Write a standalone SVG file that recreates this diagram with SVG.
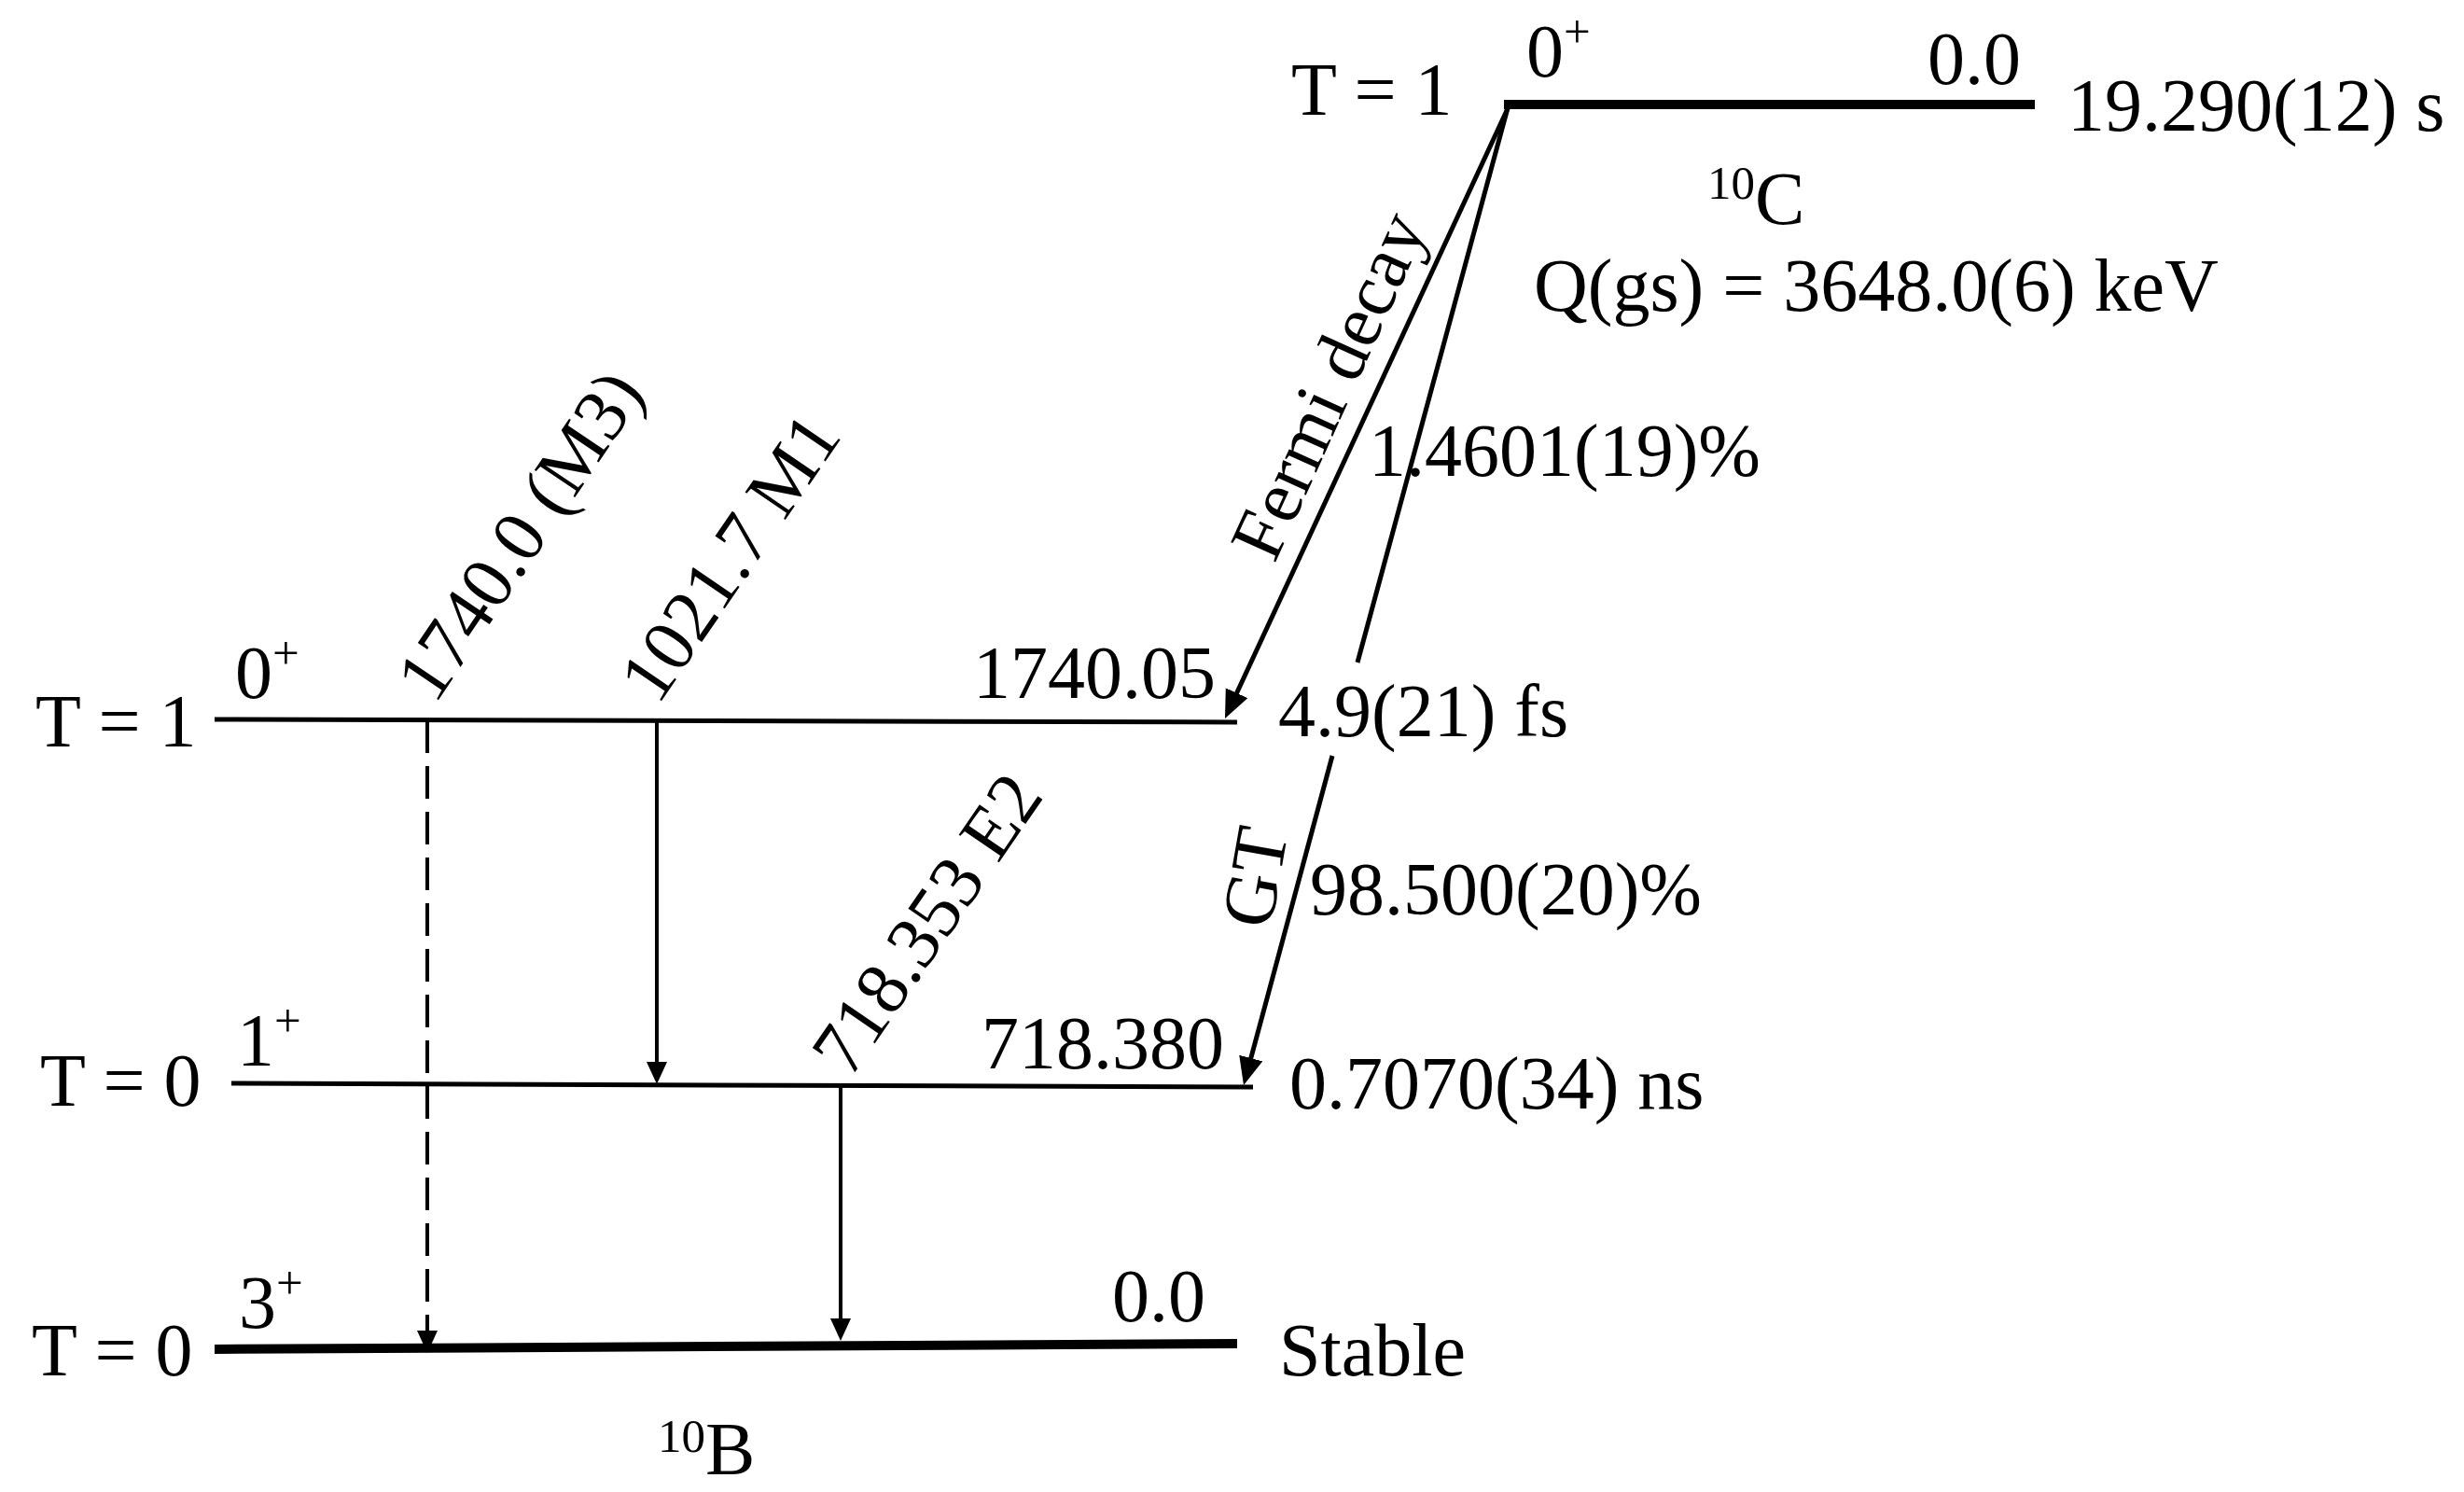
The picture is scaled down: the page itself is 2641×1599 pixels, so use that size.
<svg xmlns="http://www.w3.org/2000/svg" width="2641" height="1599" viewBox="0 0 2641 1599">
<style>
text{font-family:"Liberation Serif","Times New Roman",serif;font-size:80px;fill:#000}
.sup{font-size:51px}
.lvl{stroke:#000;stroke-width:5;fill:none}
.lvlb{stroke:#000;stroke-width:10;fill:none}
.beta{stroke:#000;stroke-width:5;fill:none}
.gam{stroke:#000;stroke-width:4;fill:none}
.dash{stroke-dasharray:35 14}
</style>
<defs>
<marker id="ahB" markerUnits="userSpaceOnUse" markerWidth="32" markerHeight="28" refX="10" refY="13" orient="auto"><path d="M0,0 L30,13 L0,26 z" fill="#000"/></marker>
<marker id="ahG" markerUnits="userSpaceOnUse" markerWidth="26" markerHeight="24" refX="4" refY="11" orient="auto"><path d="M0,0 L24,11 L0,22 z" fill="#000"/></marker>
</defs>
<rect width="2641" height="1599" fill="#fff"/>

<g id="level-10C-gs">
<line class="lvlb" x1="1612" y1="112" x2="2181" y2="112"/>
<text x="1384" y="123">T = 1</text>
<text x="1636" y="82">0<tspan class="sup" dy="-31">+</tspan></text>
<text x="2066" y="90">0.0</text>
<text x="2216" y="140">19.290(12) s</text>
<text x="1830" y="240"><tspan class="sup" dy="-27">10</tspan><tspan dy="27">C</tspan></text>
<text x="1644" y="333">Q(gs) = 3648.0(6) keV</text>
</g>

<g id="level-10B-1740">
<line class="lvl" x1="230" y1="771" x2="1326" y2="774"/>
<text x="38" y="800">T = 1</text>
<text x="252" y="748">0<tspan class="sup" dy="-31">+</tspan></text>
<text x="1043" y="748">1740.05</text>
<text x="1370" y="789">4.9(21) fs</text>
</g>

<g id="level-10B-718">
<line class="lvl" x1="248" y1="1161" x2="1343" y2="1165"/>
<text x="43" y="1185">T = 0</text>
<text x="254" y="1142">1<tspan class="sup" dy="-31">+</tspan></text>
<text x="1052" y="1145">718.380</text>
<text x="1382" y="1188">0.7070(34) ns</text>
</g>

<g id="level-10B-gs">
<line class="lvlb" x1="230" y1="1446" x2="1326" y2="1440"/>
<text x="34" y="1474">T = 0</text>
<text x="256" y="1423">3<tspan class="sup" dy="-31">+</tspan></text>
<text x="1192" y="1416">0.0</text>
<text x="1371" y="1474">Stable</text>
<text x="705" y="1580"><tspan class="sup" dy="-24">10</tspan><tspan dy="24">B</tspan></text>
</g>

<g id="connectors">
<line class="beta" x1="1618" y1="112" x2="1321.4" y2="751.8" marker-end="url(#ahB)"/>
<line class="beta" x1="1617" y1="112" x2="1455" y2="710"/>
<line class="beta" x1="1428" y1="810" x2="1338.2" y2="1143.7" marker-end="url(#ahB)"/>
<line class="gam dash" x1="458" y1="772" x2="458" y2="1430" marker-end="url(#ahG)"/>
<line class="gam" x1="704" y1="773" x2="704" y2="1142" marker-end="url(#ahG)"/>
<line class="gam" x1="901" y1="1164" x2="901" y2="1417" marker-end="url(#ahG)"/>
</g>

<g id="connector-labels">
<text transform="translate(1366,605) rotate(-65.6)">Fermi decay</text>
<text x="1467" y="510">1.4601(19)%</text>
<text transform="translate(1362,997) rotate(-80)">GT</text>
<text x="1404" y="980">98.500(20)%</text>
<text transform="translate(466,756) rotate(-56)">1740.0 (M3)</text>
<text transform="translate(705,757) rotate(-55.6)">1021.7 M1</text>
<text transform="translate(911,1157) rotate(-55.5)">718.353 E2</text>
</g>
</svg>
